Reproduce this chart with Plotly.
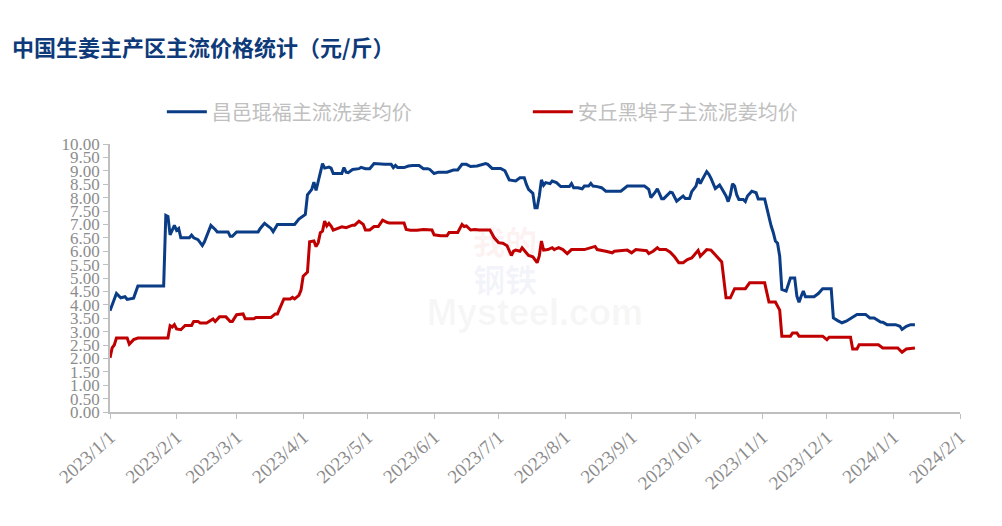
import plotly.graph_objects as go

# 昌邑琨福主流洗姜均价 (元/斤)
blue_dates = [
    "2023-01-01", "2023-01-04", "2023-01-06", "2023-01-08", "2023-01-09", "2023-01-11",
    "2023-01-12", "2023-01-14", "2023-01-26", "2023-01-27", "2023-01-28", "2023-01-29",
    "2023-01-31", "2023-02-01", "2023-02-02", "2023-02-03", "2023-02-07", "2023-02-08",
    "2023-02-09", "2023-02-11", "2023-02-13", "2023-02-14", "2023-02-17", "2023-02-19",
    "2023-02-20", "2023-02-25", "2023-02-26", "2023-02-27", "2023-03-01", "2023-03-03",
    "2023-03-11", "2023-03-12", "2023-03-14", "2023-03-17", "2023-03-18", "2023-03-20",
    "2023-03-28", "2023-03-30", "2023-04-02", "2023-04-03", "2023-04-05", "2023-04-06",
    "2023-04-07", "2023-04-08", "2023-04-10", "2023-04-11", "2023-04-13", "2023-04-14",
    "2023-04-15", "2023-04-19", "2023-04-20", "2023-04-21", "2023-04-22", "2023-04-24",
    "2023-04-27", "2023-04-28", "2023-04-30", "2023-05-02", "2023-05-04", "2023-05-09",
    "2023-05-12", "2023-05-13", "2023-05-14", "2023-05-15", "2023-05-18", "2023-05-20",
    "2023-05-22", "2023-05-25", "2023-05-27", "2023-05-29", "2023-05-30", "2023-06-01",
    "2023-06-03", "2023-06-07", "2023-06-10", "2023-06-12", "2023-06-14", "2023-06-16",
    "2023-06-18", "2023-06-21", "2023-06-24", "2023-06-25", "2023-06-26", "2023-06-28",
    "2023-07-02", "2023-07-04", "2023-07-06", "2023-07-09", "2023-07-11", "2023-07-13",
    "2023-07-14", "2023-07-15", "2023-07-17", "2023-07-18", "2023-07-19", "2023-07-20",
    "2023-07-21", "2023-07-22", "2023-07-23", "2023-07-25", "2023-07-26", "2023-07-28",
    "2023-07-30", "2023-08-03", "2023-08-04", "2023-08-05", "2023-08-07", "2023-08-09",
    "2023-08-10", "2023-08-12", "2023-08-13", "2023-08-14", "2023-08-16", "2023-08-18",
    "2023-08-20", "2023-08-27", "2023-08-30", "2023-09-07", "2023-09-09", "2023-09-10",
    "2023-09-12", "2023-09-13", "2023-09-15", "2023-09-16", "2023-09-19", "2023-09-20",
    "2023-09-22", "2023-09-23", "2023-09-25", "2023-09-26", "2023-09-28", "2023-09-29",
    "2023-10-01", "2023-10-02", "2023-10-03", "2023-10-04", "2023-10-06", "2023-10-07",
    "2023-10-08", "2023-10-10", "2023-10-12", "2023-10-13", "2023-10-15", "2023-10-16",
    "2023-10-17", "2023-10-18", "2023-10-19", "2023-10-20", "2023-10-21", "2023-10-23",
    "2023-10-24", "2023-10-25", "2023-10-27", "2023-10-29", "2023-10-30", "2023-11-02",
    "2023-11-03", "2023-11-04", "2023-11-05", "2023-11-06", "2023-11-07", "2023-11-08",
    "2023-11-09", "2023-11-10", "2023-11-12", "2023-11-14", "2023-11-16", "2023-11-17",
    "2023-11-18", "2023-11-19", "2023-11-20", "2023-11-21", "2023-11-25", "2023-11-27",
    "2023-11-29", "2023-12-03", "2023-12-04", "2023-12-06", "2023-12-08", "2023-12-10",
    "2023-12-12", "2023-12-15", "2023-12-19", "2023-12-21", "2023-12-23", "2023-12-26",
    "2023-12-27", "2023-12-29", "2024-01-02", "2024-01-04", "2024-01-05", "2024-01-07",
    "2024-01-09", "2024-01-11",
]
blue_values = [
    3.78, 4.42, 4.26, 4.30, 4.20, 4.25,
    4.25, 4.70, 4.70, 7.34, 7.30, 6.61,
    6.96, 6.78, 6.85, 6.50, 6.50, 6.60,
    6.50, 6.43, 6.21, 6.35, 6.96, 6.81,
    6.72, 6.72, 6.56, 6.56, 6.72, 6.72,
    6.72, 6.85, 7.04, 6.85, 6.73, 7.00,
    7.00, 7.20, 7.37, 8.10, 8.31, 8.58,
    8.27, 8.60, 9.27, 9.10, 9.14, 9.10,
    8.90, 8.90, 9.12, 8.95, 8.93, 9.05,
    9.08, 9.13, 9.08, 9.08, 9.27, 9.24,
    9.24, 9.12, 9.20, 9.12, 9.12, 9.18,
    9.20, 9.20, 9.08, 9.08, 9.05, 8.90,
    8.95, 8.95, 9.03, 9.03, 9.24, 9.24,
    9.16, 9.18, 9.24, 9.27, 9.24, 9.09,
    9.09, 9.00, 8.66, 8.62, 8.74, 8.74,
    8.49, 8.31, 8.16, 7.62, 7.62, 8.06,
    8.66, 8.46, 8.56, 8.52, 8.62, 8.56,
    8.41, 8.41, 8.52, 8.37, 8.37, 8.33,
    8.43, 8.43, 8.53, 8.43, 8.41, 8.37,
    8.24, 8.24, 8.43, 8.43, 8.31, 8.00,
    8.20, 8.33, 7.96, 7.96, 8.20, 8.18,
    7.87, 7.93, 8.06, 7.97, 7.97, 8.22,
    8.43, 8.72, 8.52, 8.68, 8.97, 8.87,
    8.72, 8.34, 8.47, 8.34, 8.06, 7.85,
    8.10, 8.52, 8.43, 8.10, 7.93, 7.93,
    7.85, 8.06, 8.24, 8.18, 7.95, 7.95,
    7.62, 7.20, 6.95, 6.70, 6.38, 6.30,
    5.81, 4.57, 4.51, 5.00, 5.00, 4.32,
    4.10, 4.32, 4.51, 4.30, 4.30, 4.42,
    4.60, 4.60, 3.51, 3.41, 3.33, 3.39,
    3.48, 3.64, 3.64, 3.51, 3.51, 3.36,
    3.35, 3.26, 3.26, 3.20, 3.08, 3.20,
    3.26, 3.26,
]

# 安丘黑埠子主流泥姜均价 (元/斤)
red_dates = [
    "2023-01-01", "2023-01-02", "2023-01-03", "2023-01-04", "2023-01-09", "2023-01-10",
    "2023-01-12", "2023-01-14", "2023-01-28", "2023-01-29", "2023-01-30", "2023-01-31",
    "2023-02-01", "2023-02-03", "2023-02-05", "2023-02-08", "2023-02-09", "2023-02-11",
    "2023-02-12", "2023-02-15", "2023-02-18", "2023-02-19", "2023-02-21", "2023-02-24",
    "2023-02-26", "2023-02-27", "2023-03-01", "2023-03-04", "2023-03-05", "2023-03-09",
    "2023-03-10", "2023-03-17", "2023-03-19", "2023-03-20", "2023-03-23", "2023-03-26",
    "2023-03-27", "2023-03-28", "2023-03-30", "2023-03-31", "2023-04-01", "2023-04-03",
    "2023-04-04", "2023-04-06", "2023-04-07", "2023-04-08", "2023-04-09", "2023-04-10",
    "2023-04-11", "2023-04-12", "2023-04-13", "2023-04-14", "2023-04-15", "2023-04-19",
    "2023-04-21", "2023-04-24", "2023-04-25", "2023-04-27", "2023-04-29", "2023-04-30",
    "2023-05-02", "2023-05-04", "2023-05-06", "2023-05-08", "2023-05-10", "2023-05-11",
    "2023-05-18", "2023-05-19", "2023-05-21", "2023-05-24", "2023-05-27", "2023-05-31",
    "2023-06-01", "2023-06-04", "2023-06-07", "2023-06-08", "2023-06-12", "2023-06-14",
    "2023-06-15", "2023-06-16", "2023-06-18", "2023-06-20", "2023-06-22", "2023-06-27",
    "2023-06-29", "2023-07-01", "2023-07-03", "2023-07-05", "2023-07-07", "2023-07-08",
    "2023-07-09", "2023-07-11", "2023-07-12", "2023-07-14", "2023-07-15", "2023-07-17",
    "2023-07-19", "2023-07-20", "2023-07-21", "2023-07-22", "2023-07-24", "2023-07-26",
    "2023-07-27", "2023-07-28", "2023-07-29", "2023-07-31", "2023-08-02", "2023-08-04",
    "2023-08-10", "2023-08-15", "2023-08-16", "2023-08-20", "2023-08-23", "2023-08-24",
    "2023-08-30", "2023-09-01", "2023-09-03", "2023-09-08", "2023-09-09", "2023-09-11",
    "2023-09-13", "2023-09-14", "2023-09-17", "2023-09-19", "2023-09-21", "2023-09-23",
    "2023-09-25", "2023-09-27", "2023-09-29", "2023-09-30", "2023-10-02", "2023-10-03",
    "2023-10-06", "2023-10-08", "2023-10-10", "2023-10-13", "2023-10-15", "2023-10-17",
    "2023-10-19", "2023-10-24", "2023-10-26", "2023-11-02", "2023-11-04", "2023-11-07",
    "2023-11-09", "2023-11-10", "2023-11-14", "2023-11-15", "2023-11-17", "2023-11-18",
    "2023-11-29", "2023-12-01", "2023-12-02", "2023-12-12", "2023-12-13", "2023-12-15",
    "2023-12-16", "2023-12-25", "2023-12-27", "2024-01-03", "2024-01-05", "2024-01-07",
    "2024-01-11",
]
red_values = [
    2.02, 2.39, 2.50, 2.76, 2.76, 2.53,
    2.70, 2.76, 2.76, 3.22, 3.17, 3.26,
    3.10, 3.07, 3.23, 3.23, 3.38, 3.38,
    3.32, 3.32, 3.47, 3.38, 3.55, 3.55,
    3.38, 3.38, 3.63, 3.66, 3.48, 3.48,
    3.53, 3.53, 3.66, 3.66, 4.22, 4.22,
    4.28, 4.22, 4.35, 4.55, 5.07, 5.22,
    6.35, 6.38, 6.17, 6.32, 6.69, 6.75,
    7.12, 6.94, 7.04, 6.94, 6.79, 6.91,
    6.88, 6.97, 6.97, 7.12, 7.00, 6.79,
    6.79, 6.92, 6.92, 7.16, 7.08, 7.05,
    7.05, 6.81, 6.78, 6.78, 6.81, 6.79,
    6.61, 6.58, 6.58, 6.70, 6.70, 7.00,
    6.92, 6.94, 6.79, 6.81, 6.79, 6.79,
    6.50, 6.32, 6.30, 6.20, 5.84, 6.00,
    6.04, 6.00, 6.13, 5.94, 5.84, 5.79,
    5.57, 5.82, 6.38, 6.04, 6.06, 6.13,
    6.06, 6.10, 6.13, 6.06, 5.91, 6.06,
    6.06, 6.18, 6.06, 6.00, 5.94, 6.00,
    6.04, 5.94, 6.06, 6.02, 5.91, 6.00,
    6.13, 6.06, 6.06, 5.96, 5.79, 5.57,
    5.57, 5.69, 5.75, 5.84, 6.03, 5.81,
    6.06, 6.04, 5.87, 5.60, 4.26, 4.26,
    4.60, 4.60, 4.82, 4.82, 4.10, 4.10,
    3.80, 2.83, 2.83, 2.95, 2.95, 2.83,
    2.83, 2.70, 2.79, 2.79, 2.35, 2.35,
    2.51, 2.51, 2.39, 2.39, 2.23, 2.35,
    2.39,
]

month_ticks = [
    "2023-01-01", "2023-02-01", "2023-03-01", "2023-04-01", "2023-05-01",
    "2023-06-01", "2023-07-01", "2023-08-01", "2023-09-01", "2023-10-01",
    "2023-11-01", "2023-12-01", "2024-01-01", "2024-02-01",
]
month_labels = [
    "2023/1/1", "2023/2/1", "2023/3/1", "2023/4/1", "2023/5/1",
    "2023/6/1", "2023/7/1", "2023/8/1", "2023/9/1", "2023/10/1",
    "2023/11/1", "2023/12/1", "2024/1/1", "2024/2/1",
]

BLUE = "#0B3D86"
RED = "#C00000"
AXIS = "#BFBFBF"
LABEL = "#8C8C8C"
CJK = "Noto Sans CJK SC"
SERIF = "Liberation Serif"

fig = go.Figure()

fig.add_trace(go.Scatter(
    x=blue_dates, y=blue_values,
    name="昌邑琨福主流洗姜均价",
    mode="lines",
    line=dict(color=BLUE, width=3),
))
fig.add_trace(go.Scatter(
    x=red_dates, y=red_values,
    name="安丘黑埠子主流泥姜均价",
    mode="lines",
    line=dict(color=RED, width=3),
))

# very faint watermark behind the lines
fig.add_annotation(
    text="<b>我的</b>", x=0.465, y=0.64, xref="paper", yref="paper",
    showarrow=False, font=dict(family=CJK, size=32, color="rgba(220,60,60,0.07)"),
)
fig.add_annotation(
    text="<b>钢铁</b>", x=0.465, y=0.50, xref="paper", yref="paper",
    showarrow=False, font=dict(family=CJK, size=32, color="rgba(60,80,160,0.06)"),
)
fig.add_annotation(
    text="<b>Mysteel.com</b>", x=0.5, y=0.37, xref="paper", yref="paper",
    showarrow=False, font=dict(family="Liberation Sans", size=36, color="rgba(120,120,120,0.06)"),
)

# page body adds an 8px offset, so the figure is 8px smaller on each side
fig.update_layout(
    width=994, height=518,
    margin=dict(l=102, r=42, t=136, b=114),
    paper_bgcolor="white",
    plot_bgcolor="white",
    title=dict(
        text="<b>中国生姜主产区主流价格统计（元/斤）</b>",
        x=0.004, xanchor="left", y=0.923, yanchor="middle",
        font=dict(family=CJK, size=22, color="#0E3A7A"),
    ),
    legend=dict(
        orientation="h",
        x=0.061, xanchor="left", y=1.12, yanchor="middle",
        font=dict(family=CJK, size=20, color="#C0C0C0"),
        entrywidth=311,
        itemwidth=40,
    ),
    showlegend=True,
)

fig.update_xaxes(
    type="date",
    range=["2023-01-01", "2024-02-01"],
    tickvals=month_ticks,
    ticktext=month_labels,
    tickangle=-42,
    tickfont=dict(family=SERIF, size=19, color=LABEL),
    showline=True, linecolor=AXIS, linewidth=1.5,
    ticks="outside", ticklen=5, tickcolor=AXIS,
    showgrid=False, zeroline=False,
    automargin=False,
)
fig.update_yaxes(
    range=[0, 10],
    dtick=0.5,
    tickformat=".2f",
    tickfont=dict(family=SERIF, size=17, color=LABEL),
    showline=True, linecolor=AXIS, linewidth=1.5,
    ticks="outside", ticklen=5, tickcolor=AXIS,
    showgrid=False, zeroline=False,
    automargin=False,
)

fig.write_html("out.html")
